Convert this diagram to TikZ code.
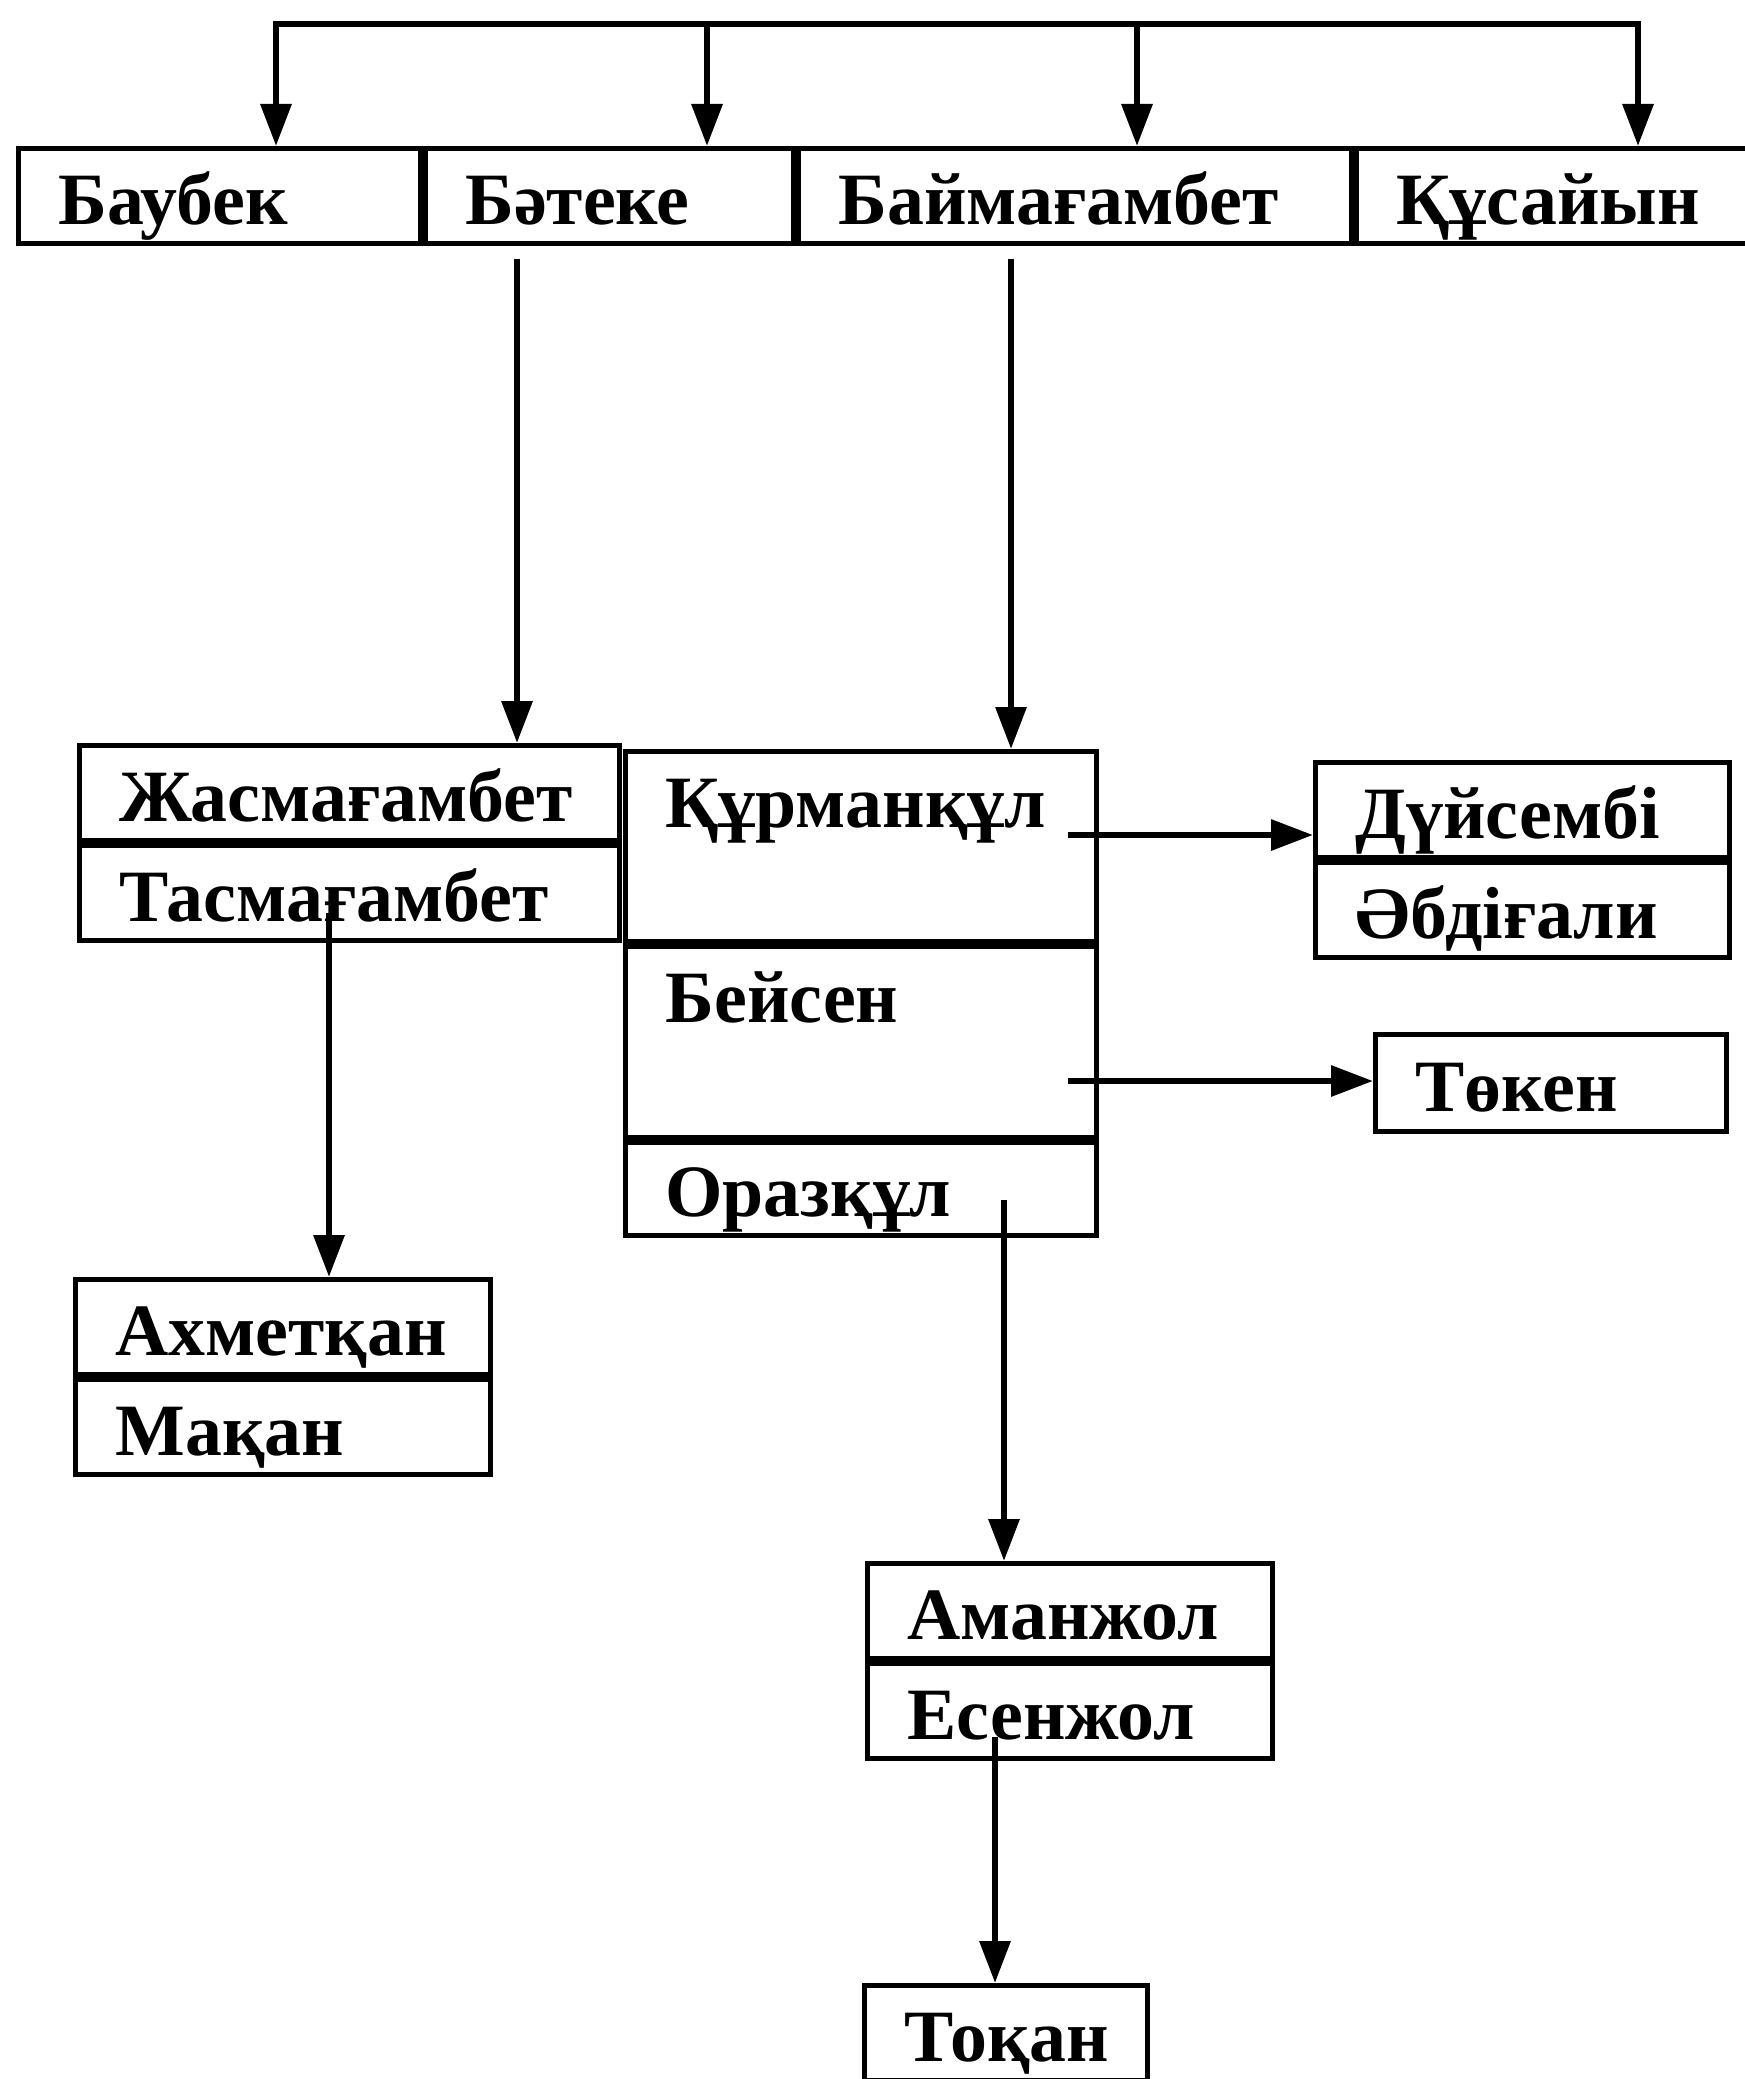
\documentclass[tikz,border=0pt]{standalone}
\usepackage{fontspec}
\setmainfont{Liberation Serif}
\usetikzlibrary{arrows.meta, positioning, calc}
\tikzset{
  every picture/.style={font=\bfseries\fontsize{21}{25}\selectfont, line width=1.4pt},
  cell/.style={draw, line width=1.4pt, anchor=north west, inner xsep=0.4cm, inner ysep=0pt,
               text width=#1, align=left, minimum height=0.95cm,
               text height=18pt, text depth=2pt},
  cell/.default=3cm,
  toptext/.style={anchor=north west, inner xsep=0.4cm, inner ysep=0pt, minimum height=0.95cm,
                  text height=18pt, text depth=2pt},
  arrow/.style={-{Triangle[length=0.42cm, width=0.3cm]}, line width=1.8pt},
}

\begin{document}
\begin{tikzpicture}
  \useasboundingbox (0,0) rectangle (17.44,-20.79);
  % top row
  \node[cell=3.22cm] (baubek) at (0.16,-1.46) {Баубек};
  \node[cell=2.88cm, right=0pt of baubek] (bateke) {Бәтеке};
  \node[cell=4.73cm, right=0pt of bateke] (baim) {Баймағамбет};
  \node[cell=3.14cm, right=0pt of baim] (kusaiyn) {Құсайын};
  \foreach \i/\x/\n in {1/2.76/baubek, 2/7.07/bateke, 3/11.37/baim, 4/16.38/kusaiyn}
    { \coordinate (bus\i) at (\x,-0.24);
      \draw[arrow] (bus\i) -- (bus\i |- \n.north); }
  \draw[line width=1.8pt, line cap=rect] (bus1) -- (bus4);

  % second generation
  \node[cell=4.6cm] (jas) at (0.77,-7.43) {Жасмағамбет};
  \node[cell=4.6cm, below=0pt of jas] (tas) {Тасмағамбет};
  \node[cell=3.91cm, minimum height=1.9cm,
        label={[toptext]north west:Құрманқұл}] (kurman) at (6.23,-7.49) {};
  \node[cell=3.91cm, minimum height=1.91cm, below=0pt of kurman,
        label={[toptext]north west:Бейсен}] (beisen) {};
  \node[cell=3.91cm, minimum height=0.93cm, below=0pt of beisen] (oraz) {Оразқұл};
  \coordinate (from2) at (5.17,-2.59);
  \coordinate (from3) at (10.11,-2.59);
  \draw[arrow] (from2) -- (from2 |- jas.north);
  \draw[arrow] (from3) -- (from3 |- kurman.north);

  % right side
  \node[cell=3.34cm] (duis) at (13.13,-7.60) {Дүйсембі};
  \node[cell=3.34cm, below=0pt of duis] (abdi) {Әбдіғали};
  \node[cell=2.71cm, minimum height=0.97cm] (token) at (13.73,-10.32) {Төкен};
  \coordinate (k1) at (10.68,-8.35);
  \coordinate (b1) at (10.68,-10.81);
  \draw[arrow] (k1) -- (k1 -| duis.west);
  \draw[arrow] (b1) -- (b1 -| token.west);

  % lower part
  \node[cell=3.35cm] (akhmet) at (0.73,-12.77) {Ахметқан};
  \node[cell=3.35cm, below=0pt of akhmet] (makan) {Мақан};
  \node[cell=3.25cm] (aman) at (8.65,-15.61) {Аманжол};
  \node[cell=3.25cm, below=0pt of aman] (esen) {Есенжол};
  \node[cell=2.03cm] (tokan) at (8.62,-19.83) {Тоқан};
  \coordinate (t1) at (3.29,-9.13);
  \coordinate (o1) at (10.04,-12.00);
  \coordinate (e1) at (9.95,-17.37);
  \draw[arrow] (t1) -- (t1 |- akhmet.north);
  \draw[arrow] (o1) -- (o1 |- aman.north);
  \draw[arrow] (e1) -- (e1 |- tokan.north);
\end{tikzpicture}
\end{document}
